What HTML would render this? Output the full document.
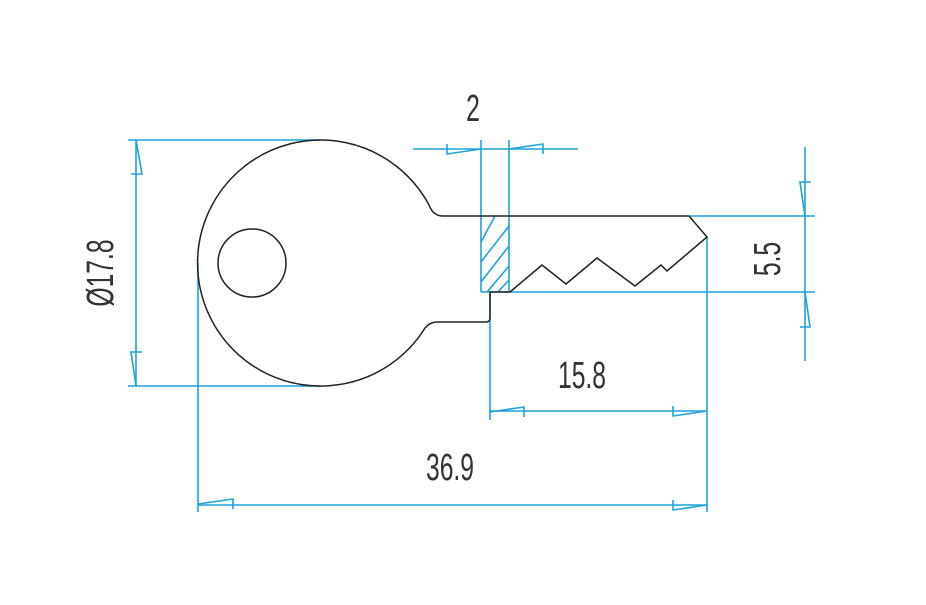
<!DOCTYPE html>
<html><head><meta charset="utf-8"><style>html,body{margin:0;padding:0;background:#fff}svg{display:block}text{font-family:"Liberation Sans",sans-serif;fill:#333}</style></head>
<body>
<svg width="926" height="605" viewBox="0 0 926 605" xmlns="http://www.w3.org/2000/svg">
<g fill="none" stroke="#1ba3dc" stroke-width="1.6">
<line x1="128" y1="140" x2="320" y2="140"/>
<line x1="128" y1="386" x2="320" y2="386"/>
<line x1="136" y1="140" x2="136" y2="386"/>
<path d="M136,140 L142,174 L131,174"/>
<path d="M136,386 L131,352 L142,352"/>
<line x1="481" y1="140" x2="481" y2="292"/>
<line x1="509" y1="140" x2="509" y2="292"/>
<line x1="413" y1="149" x2="578" y2="149"/>
<path d="M481,149 L447,154 L447,144"/>
<path d="M509,149 L543,144 L543,154"/>
<line x1="481" y1="292" x2="509" y2="292"/>
<line x1="481" y1="242" x2="495" y2="216"/>
<line x1="481" y1="262" x2="509" y2="226"/>
<line x1="481" y1="282" x2="509" y2="246"/>
<line x1="487" y1="292" x2="509" y2="266"/>
<line x1="498" y1="292" x2="509" y2="280"/>
<line x1="690" y1="216" x2="815" y2="216"/>
<line x1="509" y1="292" x2="815" y2="292"/>
<line x1="805" y1="147" x2="805" y2="361"/>
<path d="M805,216 L800,182 L811,182"/>
<path d="M805,292 L810,327 L800,327"/>
<line x1="707" y1="237" x2="707" y2="512"/>
<line x1="490" y1="292" x2="490" y2="420"/>
<line x1="198" y1="263" x2="198" y2="512"/>
<line x1="490" y1="411" x2="707" y2="411"/>
<path d="M490,412 L524,407 L524,417"/>
<path d="M707,411 L673,416 L673,406"/>
<line x1="198" y1="505" x2="707" y2="505"/>
<path d="M198,504 L233,499 L233,509"/>
<path d="M707,505 L673,510 L673,500"/>
</g>
<g fill="none" stroke="#222" stroke-width="1.5" stroke-linejoin="miter">
<path d="M509,216 L689,216 L707,237 L667,271 L661,265 L635,286 L597,258 L566,284 L542,265 L510,292 L490,292 L490,318 Q490,322 486,322 L437,322 Q430,322 425,328 A123 123 0 1 1 429,205 Q433,216 443,216 L509,216"/>
<circle cx="252" cy="263" r="34"/>
</g>
<g font-size="38">
<text transform="translate(473 121) scale(0.65 1)" text-anchor="middle">2</text>
<text transform="translate(582 388) scale(0.65 1)" text-anchor="middle">15.8</text>
<text transform="translate(450 480) scale(0.65 1)" text-anchor="middle">36.9</text>
<text transform="translate(780 259) rotate(-90) scale(0.65 1)" text-anchor="middle">5.5</text>
<text transform="translate(113 273) rotate(-90) scale(0.65 1)" text-anchor="middle">Ø17.8</text>
</g>
</svg>
</body></html>
